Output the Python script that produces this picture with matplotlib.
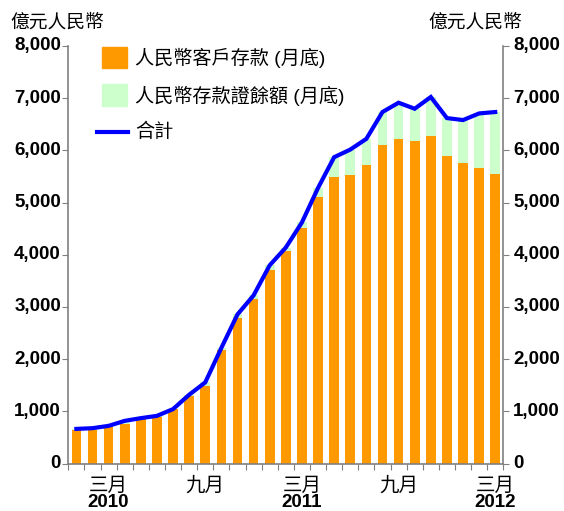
import matplotlib
matplotlib.use("Agg")
import matplotlib.pyplot as plt
from matplotlib.patches import Rectangle
from matplotlib.lines import Line2D
import numpy as np

plt.rcParams['font.family'] = ['Liberation Sans', 'Noto Sans CJK TC', 'DejaVu Sans']

# Monthly data Jan 2010 - Mar 2012 (億元人民幣)
months = list(range(27))
deposits = [640, 643, 707, 759, 847, 897, 1037, 1286, 1493, 2171, 2796, 3149,
            3706, 4077, 4515, 5108, 5489, 5536, 5722, 6108, 6222, 6184, 6273,
            5885, 5764, 5657, 5543]
total = [663, 677, 721, 817, 869, 913, 1042, 1317, 1554, 2215, 2856, 3221,
         3798, 4138, 4619, 5280, 5869, 6015, 6221, 6735, 6913, 6798, 7023,
         6619, 6581, 6708, 6735]
cds = [t - d for t, d in zip(total, deposits)]

label_pos = [2, 8, 14, 20, 26]
label_month = ['三月', '九月', '三月', '九月', '三月']
label_year = ['2010', '', '2011', '', '2012']

yticks = [0, 1000, 2000, 3000, 4000, 5000, 6000, 7000, 8000]
ytick_labels = ['0', '1,000', '2,000', '3,000', '4,000', '5,000', '6,000', '7,000', '8,000']

orange = '#FF9900'
green = '#CCFFCC'
blue = '#0000FF'
gray = '#808080'

fig = plt.figure(figsize=(5.64, 5.11), dpi=100)
ax = fig.add_axes([68.3 / 564, (511 - 463.5) / 511, (503.3 - 68.3) / 564, (463.5 - 46) / 511])

ax.bar(months, deposits, width=0.6, color=orange, zorder=2)
ax.bar(months, cds, width=0.6, bottom=deposits, color=green, zorder=2)
ax.plot(months, total, color=blue, lw=3, zorder=3, solid_joinstyle='miter')

ax.set_xlim(-0.5, 26.5)
ax.set_ylim(0, 8000)

ax.spines['top'].set_visible(False)
for s in ['left', 'right', 'bottom']:
    ax.spines[s].set_color(gray)
    ax.spines[s].set_linewidth(1.2)

ax.set_yticks(yticks)
ax.tick_params(axis='y', which='both', direction='out', length=4, color=gray,
               left=True, right=True, labelleft=False, labelright=False)
yt = ax.get_yaxis_transform()
for v, s in zip(yticks, ytick_labels):
    ax.text(-0.017, v, s, transform=yt, ha='right', va='center', fontsize=13.5,
            fontweight='bold', family='Liberation Sans', clip_on=False)
    ax.text(1.023, v, s, transform=yt, ha='left', va='center', fontsize=13.5,
            fontweight='bold', family='Liberation Sans', clip_on=False)

ax.set_xticks(np.arange(-0.5, 27, 1.0))
ax.set_xticklabels([])
ax.tick_params(axis='x', direction='out', length=4, color=gray)

cjk = ['Noto Sans CJK TC', 'DejaVu Sans']
xt = ax.get_xaxis_transform()
for p, m, yr in zip(label_pos, label_month, label_year):
    ax.text(p, -0.052, m, transform=xt, ha='center', va='center', fontsize=14,
            family=cjk, fontweight='normal')
    if yr:
        ax.text(p, -0.094, yr, transform=xt, ha='center', va='center', fontsize=13.5,
                fontweight='bold', family='Liberation Sans')

# axis unit labels
fig.text(10 / 564, 1 - 22 / 511, '億元人民幣', ha='left', va='center', fontsize=13.5,
         family=cjk, fontweight='normal')
fig.text(522 / 564, 1 - 22 / 511, '億元人民幣', ha='right', va='center', fontsize=13.5,
         family=cjk, fontweight='normal')

# legend (manual)
W, H = 564, 511
def fx(x):
    return x / W
def fy(y):
    return 1 - y / H
fig.patches.append(Rectangle((fx(101.7), fy(68.3)), 25 / W, 21.6 / H, color=orange,
                             transform=fig.transFigure))
fig.patches.append(Rectangle((fx(101.7), fy(105.7)), 25 / W, 21.4 / H, color=green,
                             transform=fig.transFigure))
fig.lines.append(Line2D([fx(96.7), fx(127.7)], [fy(131.7), fy(131.7)], color=blue, lw=3,
                        transform=fig.transFigure))
leg_font = ['Liberation Sans', 'Noto Sans CJK TC', 'DejaVu Sans']
fig.text(fx(135), fy(58), '人民幣客戶存款 (月底)', ha='left', va='center', fontsize=13.8,
         family=leg_font, fontweight='normal')
fig.text(fx(135), fy(95.5), '人民幣存款證餘額 (月底)', ha='left', va='center', fontsize=13.8,
         family=leg_font, fontweight='normal')
fig.text(fx(135), fy(131.5), '合計', ha='left', va='center', fontsize=13.8,
         family=leg_font, fontweight='normal')

fig.savefig('out.png', dpi=100)
